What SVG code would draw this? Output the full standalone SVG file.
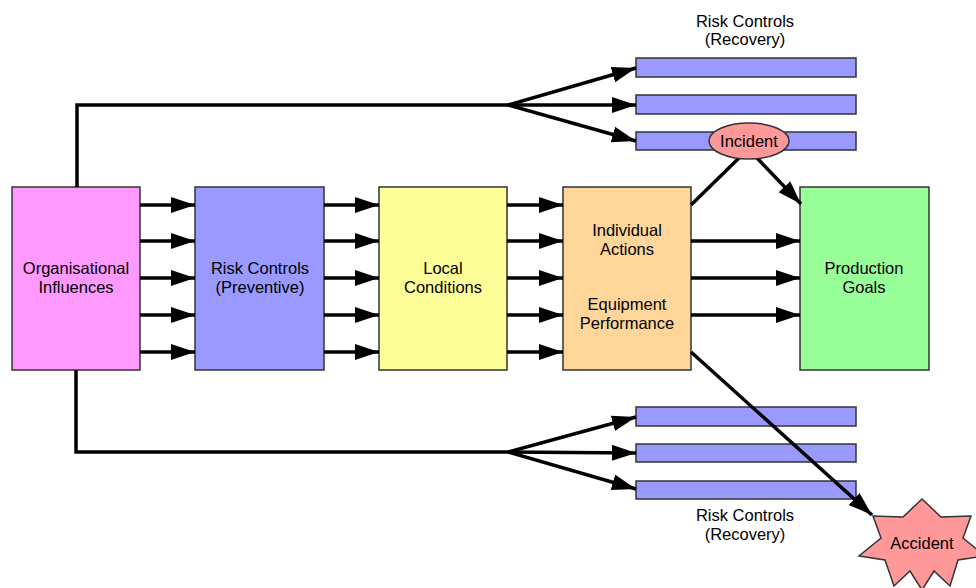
<svg xmlns="http://www.w3.org/2000/svg" width="976" height="588" viewBox="0 0 976 588">
<defs>
<marker id="ah" markerUnits="userSpaceOnUse" markerWidth="26" markerHeight="18" refX="24" refY="8" orient="auto" viewBox="0 0 26 18">
<path d="M0,0 L24,8 L0,16 Z" fill="#000"/>
</marker>
<style>
.box{stroke:#333;stroke-width:1.5}
.t{font-family:"Liberation Sans",Arial,sans-serif;font-size:16.5px;fill:#000;text-anchor:middle}
.c{fill:none;stroke:#000;stroke-width:3.5}
.a{marker-end:url(#ah)}
.bar{fill:#9999FF;stroke:#333;stroke-width:1.5}
</style>
</defs>
<rect width="976" height="588" fill="#fff"/>

<g id="recovery-top">
<rect class="bar" x="636" y="58" width="220" height="19"/>
<rect class="bar" x="636" y="95" width="220" height="19"/>
<rect class="bar" x="636" y="132" width="220" height="18"/>
<text class="t" x="745" y="27">Risk Controls</text>
<text class="t" x="745" y="45">(Recovery)</text>
</g>
<g id="recovery-bottom">
<rect class="bar" x="636" y="407" width="220" height="19"/>
<rect class="bar" x="636" y="444" width="220" height="18"/>
<rect class="bar" x="636" y="481" width="220" height="18"/>
<text class="t" x="745" y="521">Risk Controls</text>
<text class="t" x="745" y="540">(Recovery)</text>
</g>

<g id="organisational">
<rect class="box" x="12" y="187" width="128" height="183" fill="#FF99FF"/>
<text class="t" x="76" y="274">Organisational</text>
<text class="t" x="76" y="293">Influences</text>
</g>
<g id="preventive">
<rect class="box" x="195" y="187" width="129" height="183" fill="#9999FF"/>
<text class="t" x="260" y="274">Risk Controls</text>
<text class="t" x="260" y="293">(Preventive)</text>
</g>
<g id="local">
<rect class="box" x="379" y="187" width="128" height="183" fill="#FFFF99"/>
<text class="t" x="443" y="274">Local</text>
<text class="t" x="443" y="293">Conditions</text>
</g>
<g id="individual">
<rect class="box" x="563" y="187" width="128" height="183" fill="#FFD699"/>
<text class="t" x="627" y="236">Individual</text>
<text class="t" x="627" y="255">Actions</text>
<text class="t" x="627" y="310">Equipment</text>
<text class="t" x="627" y="329">Performance</text>
</g>
<g id="production">
<rect class="box" x="800" y="187" width="129" height="183" fill="#99FF99"/>
<text class="t" x="864" y="274">Production</text>
<text class="t" x="864" y="293">Goals</text>
</g>

<g id="connectors">
<path class="c" d="M77,187 V105 H508"/>
<path class="c a" d="M508,105 L636,68"/>
<path class="c a" d="M508,105 L636,105"/>
<path class="c a" d="M508,105 L636,141"/>
<path class="c" d="M76,370 V452 H508"/>
<path class="c a" d="M508,452 L636,417"/>
<path class="c a" d="M508,452 L636,453"/>
<path class="c a" d="M508,452 L636,489"/>

<path class="c a" d="M140,205 H195"/>
<path class="c a" d="M140,241 H195"/>
<path class="c a" d="M140,278 H195"/>
<path class="c a" d="M140,315 H195"/>
<path class="c a" d="M140,352 H195"/>

<path class="c a" d="M324,205 H379"/>
<path class="c a" d="M324,241 H379"/>
<path class="c a" d="M324,278 H379"/>
<path class="c a" d="M324,315 H379"/>
<path class="c a" d="M324,352 H379"/>

<path class="c a" d="M507,205 H563"/>
<path class="c a" d="M507,241 H563"/>
<path class="c a" d="M507,278 H563"/>
<path class="c a" d="M507,315 H563"/>
<path class="c a" d="M507,352 H563"/>

<path class="c a" d="M691,241 H800"/>
<path class="c a" d="M691,278 H800"/>
<path class="c a" d="M691,315 H800"/>

<path class="c" d="M691,205 L739,158"/>
<path class="c a" d="M757,158 L801,204"/>
<path class="c a" d="M691,352 L872,515"/>
</g>

<g id="incident">
<ellipse cx="749" cy="141" rx="40" ry="18" fill="#FF9999" stroke="#333" stroke-width="1.5"/>
<text class="t" x="749" y="147">Incident</text>
</g>
<g id="accident">
<polygon fill="#FF9999" stroke="#333" stroke-width="1.5" points="922,499 903,517 873,516 881,538 859,556 885,560 894,586 910,571 922,590 934,571 950,586 958,560 985,556 963,538 971,516 941,517"/>
<text class="t" x="922" y="549">Accident</text>
</g>
</svg>
